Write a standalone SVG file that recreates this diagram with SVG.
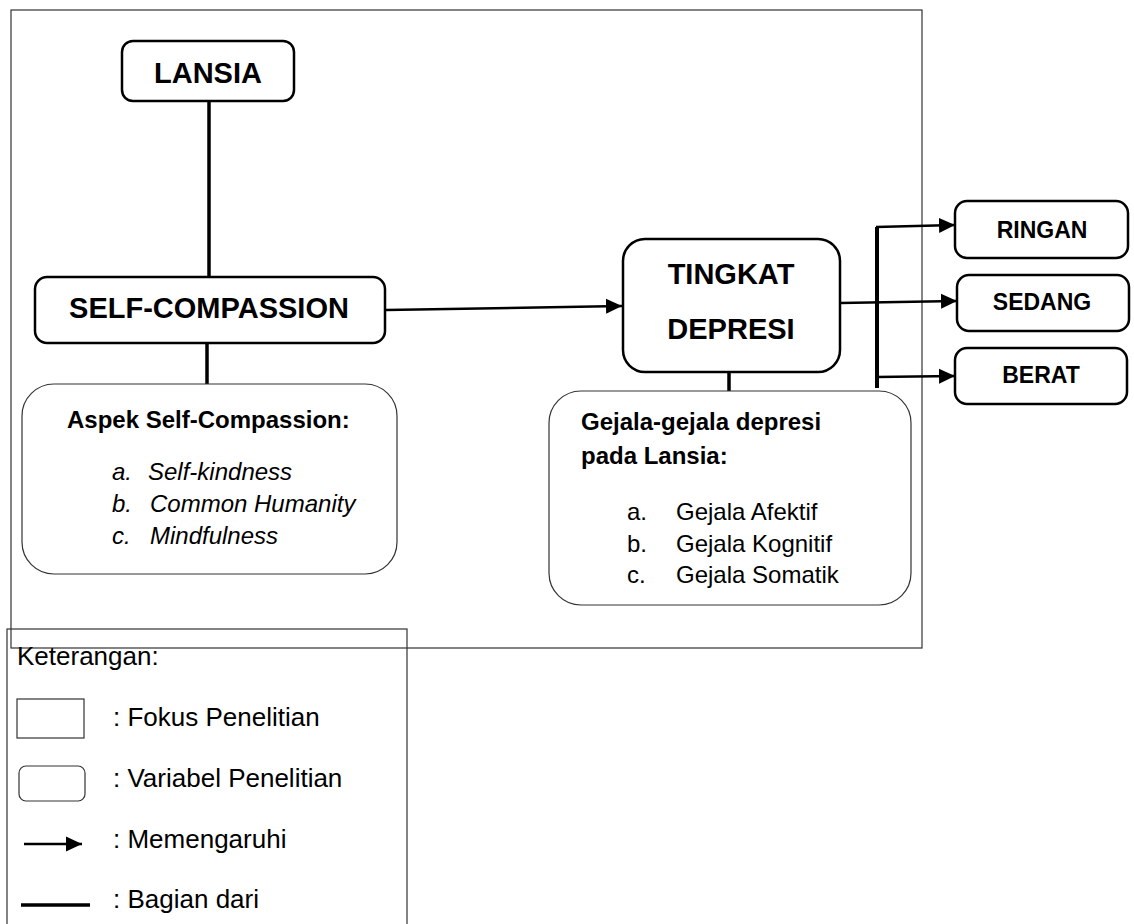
<svg xmlns="http://www.w3.org/2000/svg" width="1134" height="924" viewBox="0 0 1134 924">
  <style>
    text { font-family: "Liberation Sans", Arial, sans-serif; fill: #000; }
    .b { font-weight: bold; }
    .it { font-style: italic; }
    .node { fill: #fff; stroke: #000; stroke-width: 2.5; }
    .soft { fill: #fff; stroke: #333; stroke-width: 1.2; }
    .frame { fill: none; stroke: #333; stroke-width: 1.2; }
    .part { stroke: #000; stroke-width: 3.5; fill: none; }
    .infl { stroke: #000; stroke-width: 2.5; fill: none; }
  </style>
  <defs>
    <marker id="ah" markerUnits="userSpaceOnUse" markerWidth="16" markerHeight="16" viewBox="0 0 16 16" refX="16" refY="8" orient="auto">
      <path d="M0,0.5 L16,8 L0,15.5 Z" fill="#000"/>
    </marker>
  </defs>

  <rect id="frame" class="frame" x="11" y="10" width="911" height="638"/>

  <g id="connectors">
    <line class="part" x1="209" y1="100" x2="209" y2="277"/>
    <line class="part" x1="207" y1="343" x2="207" y2="384"/>
    <line class="part" x1="729" y1="372" x2="729" y2="391"/>
    <line class="infl" x1="386" y1="310" x2="622" y2="306" marker-end="url(#ah)"/>
    <line class="infl" x1="840" y1="303" x2="957" y2="301" marker-end="url(#ah)"/>
    <line x1="877" y1="227" x2="877" y2="388" stroke="#000" stroke-width="4"/>
    <line class="infl" x1="876" y1="227" x2="955" y2="225" marker-end="url(#ah)"/>
    <line class="infl" x1="876" y1="377" x2="955" y2="376" marker-end="url(#ah)"/>
  </g>

  <g id="lansia">
    <rect class="node" x="122" y="41" width="172" height="60" rx="11"/>
    <text class="b" x="208" y="83" font-size="29" text-anchor="middle">LANSIA</text>
  </g>

  <g id="self-compassion">
    <rect class="node" x="35" y="277" width="350" height="66" rx="12"/>
    <text class="b" x="209" y="318" font-size="29" text-anchor="middle">SELF-COMPASSION</text>
  </g>

  <g id="aspek">
    <rect class="soft" x="22" y="384" width="375" height="190" rx="32"/>
    <text class="b" x="67" y="428" font-size="24">Aspek Self-Compassion:</text>
    <text class="it" x="112" y="480" font-size="24">a.</text>
    <text class="it" x="148" y="480" font-size="24">Self-kindness</text>
    <text class="it" x="112" y="512" font-size="24">b.</text>
    <text class="it" x="150" y="512" font-size="24">Common Humanity</text>
    <text class="it" x="112" y="544" font-size="24">c.</text>
    <text class="it" x="150" y="544" font-size="24">Mindfulness</text>
  </g>

  <g id="tingkat-depresi">
    <rect class="node" x="623" y="239" width="217" height="133" rx="22"/>
    <text class="b" x="731" y="284" font-size="29" text-anchor="middle">TINGKAT</text>
    <text class="b" x="731" y="339" font-size="29" text-anchor="middle">DEPRESI</text>
  </g>

  <g id="gejala">
    <rect class="soft" x="549" y="391" width="362" height="214" rx="32"/>
    <text class="b" x="581" y="430" font-size="24">Gejala-gejala depresi</text>
    <text class="b" x="581" y="464" font-size="24">pada Lansia:</text>
    <text x="627" y="520" font-size="24">a.</text>
    <text x="676" y="520" font-size="24">Gejala Afektif</text>
    <text x="627" y="552" font-size="24">b.</text>
    <text x="676" y="552" font-size="24">Gejala Kognitif</text>
    <text x="627" y="583" font-size="24">c.</text>
    <text x="676" y="583" font-size="24">Gejala Somatik</text>
  </g>

  <g id="ringan">
    <rect class="node" x="955" y="201" width="173" height="57" rx="12"/>
    <text class="b" x="1042" y="238" font-size="23" text-anchor="middle">RINGAN</text>
  </g>

  <g id="sedang">
    <rect class="node" x="957" y="275" width="172" height="56" rx="12"/>
    <text class="b" x="1042" y="310" font-size="23" text-anchor="middle">SEDANG</text>
  </g>

  <g id="berat">
    <rect class="node" x="955" y="348" width="172" height="56" rx="12"/>
    <text class="b" x="1041" y="383" font-size="23" text-anchor="middle">BERAT</text>
  </g>

  <g id="legend">
    <rect class="frame" x="7" y="629" width="400" height="310"/>
    <text x="17" y="665" font-size="26">Keterangan:</text>
    <rect x="17" y="699" width="67" height="39" fill="none" stroke="#333" stroke-width="1.2"/>
    <text x="113" y="726" font-size="26">: Fokus Penelitian</text>
    <rect x="19" y="766" width="66" height="35" rx="7" fill="none" stroke="#333" stroke-width="1.2"/>
    <text x="113" y="787" font-size="26">: Variabel Penelitian</text>
    <line class="infl" x1="24" y1="844" x2="82" y2="844" marker-end="url(#ah)"/>
    <text x="113" y="848" font-size="26">: Memengaruhi</text>
    <line class="part" x1="21" y1="905" x2="90" y2="905"/>
    <text x="113" y="908" font-size="26">: Bagian dari</text>
  </g>
</svg>
